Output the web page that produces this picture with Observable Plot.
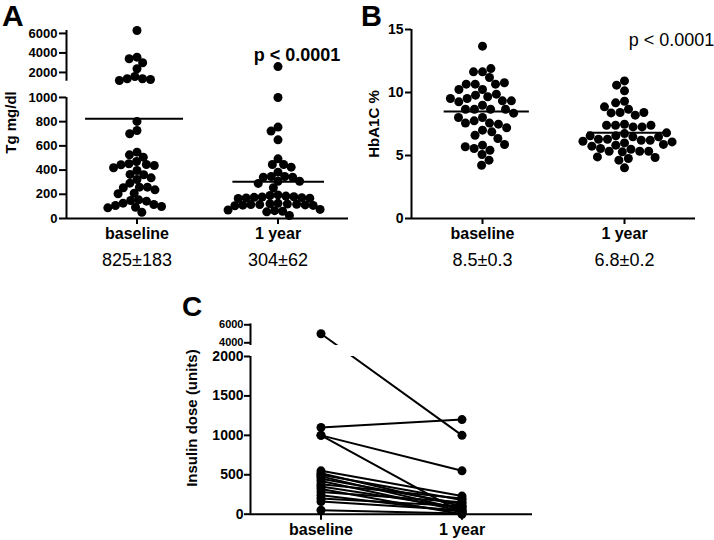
<!DOCTYPE html>
<html><head><meta charset="utf-8">
<script src="https://cdn.jsdelivr.net/npm/d3@7"></script>
<script src="https://cdn.jsdelivr.net/npm/@observablehq/plot@0.6"></script>
<style>
body{margin:0;background:#fff;}
#fig{position:relative;width:714px;height:540px;overflow:hidden;background:#fff;font-family:"Liberation Sans",Arial,sans-serif;}
.panel{position:absolute;}
.panel svg{max-width:none;overflow:visible;background:transparent;}
.letter{position:absolute;font-weight:bold;font-size:30px;line-height:30px;color:#000;}
</style></head><body><div id="fig">
<div class="panel" id="pa" style="left:0;top:0;width:360px;height:280px"></div>
<div class="panel" id="pb" style="left:360px;top:0;width:354px;height:280px"></div>
<div class="panel" id="pc" style="left:170px;top:285px;width:370px;height:255px"></div>
<div class="letter" style="left:2px;top:1px">A</div>
<div class="letter" style="left:361px;top:1px;font-size:29px">B</div>
<div class="letter" style="left:182px;top:293px;font-size:28px;line-height:28px">C</div>
</div>
<script>
const groups = ["baseline", "1 year"];

// Panel A: Tg (mg/dl)
const tgBaseline = [6300, 3570, 3400, 2990, 2380, 1590, 1350, 1350, 1280, 1180,
  802, 727, 700, 548, 526, 507, 471, 452, 446, 444, 438, 419, 397, 364, 361, 336, 322,
  292, 259, 259, 254, 237, 209, 204, 154, 149, 143, 127, 116, 107, 99, 93, 88, 52];
const tg1Year = [2600, 1000, 755, 722, 650, 493, 446, 446, 424, 383, 347, 347, 341, 341,
  308, 308, 290, 254,
  195, 190, 185, 180, 178, 175, 172, 170, 168, 165,
  125, 122, 120, 118, 115, 115, 112, 110, 108, 105,
  75, 70, 65, 60, 55, 25];
const tgMeans = [825, 304];
const tgSummary = ["825\u00B1183", "304\u00B162"];
const tgTicksLower = [0, 200, 400, 600, 800, 1000];
const tgTicksUpper = [2000, 4000, 6000];
const tgBreak = [1000, 1100];
const tgTop = 6300;
const tgP = "p < 0.0001";
const tgLabel = "Tg mg/dl";

// Panel B: HbA1C %
const hbBaseline = [13.68, 11.64, 11.64, 11.9, 11.19, 10.24, 10.66, 10.66, 10.66, 10.77, 10.24,
  9.79, 9.66, 9.87, 9.52, 9.34, 8.99, 9.26, 9.34, 9.52, 8.67, 8.67, 8.67, 8.67,
  8.02, 7.75, 7.57, 7.49, 7.57, 8.02, 8.36, 7.01, 6.61, 6.88, 7.2, 6.35,
  5.82, 5.56, 5.42, 5.69, 5.87, 5.08, 4.63, 4.23];
const hb1Year = [10.92, 10.13, 10.58, 9.31, 9.18, 8.67, 8.41, 8.2, 8.38, 8.41, 8.86,
  7.48, 7.4, 7.27, 7.27, 7.4, 7.4,
  6.74, 6.56, 6.48, 6.29, 6.21, 6.21, 6.29, 6.48, 6.56, 6.8,
  6.13, 6.0, 5.82, 5.88, 6.08,
  5.5, 5.34, 5.34, 5.29, 5.34, 5.56, 5.74, 4.89, 4.76, 4.63, 4.84, 4.02];
const hbMeans = [8.5, 6.8];
const hbSummary = ["8.5\u00B10.3", "6.8\u00B10.2"];
const hbTicks = [0, 5, 10, 15];
const hbP = "p < 0.0001";
const hbLabel = "HbA1C %";

// Panel C: insulin dose (units), paired baseline -> 1 year
const insulinBaseline = [5000, 1100, 1000, 1000, 550, 520, 500, 480, 450, 420, 380, 350, 320, 280, 240, 200, 160, 50];
const insulin1Year    = [1000, 1200, 550, 20, 230, 100, 180, 60, 130, 40, 200, 80, 0, 150, 30, 100, 50, 10];
const insTicksLower = [0, 500, 1000, 1500, 2000];
const insTicksUpper = [4000, 6000];
const insBreak = [2000, 3700];
const insTop = 6100;
const insLabel = "Insulin dose (units)";

const font = '"Liberation Sans", Arial, sans-serif';
const long = (a, b) => [...a.map(v => ({g: groups[0], v})), ...b.map(v => ({g: groups[1], v}))];
// broken-axis scale transform: lower segment linear, a gap, then a compressed upper segment
const brokenAxis = (lowMax, highMin, gap, ratio) => v => v <= lowMax ? v : lowMax + gap + (v - highMin) * ratio;
const fmt = d => String(d);
const ylabel = {frameAnchor: "left", rotate: -90, textAnchor: "middle", lineAnchor: "middle", fontSize: 15, fontWeight: "bold"};

// ---------- Panel A ----------
const tgData = long(tgBaseline, tg1Year);
const tgMeanData = groups.map((g, i) => ({g, m: tgMeans[i], t: tgSummary[i]}));
const spanA = {"baseline": [0.135, 0.83], "1 year": [0.18, 0.83]};
const A = Plot.plot({
  width: 360, height: 280, marginTop: 30, marginBottom: 62, marginLeft: 66, marginRight: 12,
  style: {fontFamily: font, fontSize: "13px", color: "black"},
  fx: {domain: groups, padding: 0, label: null},
  x: {domain: [0, 1], axis: null},
  y: {transform: brokenAxis(tgBreak[0], tgBreak[1], 134, 0.0806)},
  marks: [
    Plot.ruleY([0], {stroke: "black", strokeWidth: 2}),
    Plot.ruleX([{g: groups[0], y1: 0, y2: tgBreak[0]}, {g: groups[0], y1: tgBreak[1], y2: tgTop}],
      {fx: "g", x: 0, y1: "y1", y2: "y2", stroke: "black", strokeWidth: 2}),
    Plot.axisY(tgTicksLower, {tickSize: 7, tickPadding: 2, fontSize: 13, fontWeight: "bold", strokeWidth: 2, label: null, tickFormat: fmt}),
    Plot.axisY(tgTicksUpper, {tickSize: 7, tickPadding: 2, fontSize: 13, fontWeight: "bold", strokeWidth: 2, label: null, tickFormat: fmt}),
    Plot.axisFx({anchor: "bottom", tickSize: 6, tickPadding: 3, fontSize: 16, fontWeight: "bold", strokeWidth: 2, label: null}),
    Plot.dot(tgData, Plot.dodgeX({anchor: "middle", padding: -1}, {fx: "g", y: "v", r: 4.5, fill: "black", stroke: null})),
    Plot.ruleY(tgMeanData, {fx: "g", y: "m", x1: d => spanA[d.g][0], x2: d => spanA[d.g][1], stroke: "black", strokeWidth: 2}),
    Plot.text(tgMeanData, {fx: "g", text: "t", frameAnchor: "bottom", dy: 47, fontSize: 18}),
    Plot.text([{g: groups[1], t: tgP}], {fx: "g", text: "t", frameAnchor: "top", dx: 19, dy: 18, fontSize: 18, fontWeight: "bold"}),
    Plot.text([{g: groups[0], t: tgLabel}], {fx: "g", text: "t", ...ylabel, dx: -55, dy: -2})
  ]
});
document.getElementById("pa").appendChild(A);

// ---------- Panel B ----------
const hbData = long(hbBaseline, hb1Year);
const hbMeanData = groups.map((g, i) => ({g, m: hbMeans[i], t: hbSummary[i]}));
const spanB = {"baseline": [0.23, 0.83], "1 year": [0.24, 0.81]};
const B = Plot.plot({
  width: 354, height: 280, marginTop: 29, marginBottom: 62, marginLeft: 50, marginRight: 19,
  style: {fontFamily: font, fontSize: "14px", color: "black"},
  fx: {domain: groups, padding: 0, label: null},
  x: {domain: [0, 1], axis: null},
  y: {domain: [0, 15]},
  marks: [
    Plot.ruleY([0], {stroke: "black", strokeWidth: 2}),
    Plot.ruleX([{g: groups[0], y1: 0, y2: 15}], {fx: "g", x: 0, y1: "y1", y2: "y2", stroke: "black", strokeWidth: 2}),
    Plot.axisY(hbTicks, {tickSize: 6, tickPadding: 2, fontSize: 14, fontWeight: "bold", strokeWidth: 2, label: null, tickFormat: fmt}),
    Plot.axisFx({anchor: "bottom", tickSize: 6, tickPadding: 3, fontSize: 16, fontWeight: "bold", strokeWidth: 2, label: null}),
    Plot.dot(hbData, Plot.dodgeX({anchor: "middle", padding: 0}, {fx: "g", y: "v", r: 4.5, fill: "black", stroke: null})),
    Plot.ruleY(hbMeanData, {fx: "g", y: "m", x1: d => spanB[d.g][0], x2: d => spanB[d.g][1], stroke: "black", strokeWidth: 2}),
    Plot.text(hbMeanData, {fx: "g", text: "t", frameAnchor: "bottom", dy: 47, fontSize: 18}),
    Plot.text([{g: groups[1], t: hbP}], {fx: "g", text: "t", frameAnchor: "top", dx: 47, dy: 4, fontSize: 18}),
    Plot.text([{g: groups[0], t: hbLabel}], {fx: "g", text: "t", ...ylabel, dx: -37, dy: 0})
  ]
});
document.getElementById("pb").appendChild(B);

// ---------- Panel C ----------
const insData = [];
insulinBaseline.forEach((v, i) => {
  insData.push({id: i, g: groups[0], v});
  insData.push({id: i, g: groups[1], v: insulin1Year[i]});
});
const gx = g => groups.indexOf(g) + 0.5;
const C = Plot.plot({
  width: 370, height: 255, marginTop: 38.4, marginBottom: 26.3, marginLeft: 80, marginRight: 8,
  style: {fontFamily: font, fontSize: "14px", color: "black"},
  x: {domain: [0, groups.length]},
  y: {transform: brokenAxis(insBreak[0], insBreak[1], 139.5, 0.1141)},
  marks: [
    Plot.line(insData, {x: d => gx(d.g), y: "v", z: "id", stroke: "black", strokeWidth: 2}),
    Plot.rect([{y1: insBreak[0], y2: insBreak[1]}], {x1: 0, x2: groups.length, y1: "y1", y2: "y2", fill: "white"}),
    Plot.ruleY([0], {stroke: "black", strokeWidth: 2}),
    Plot.ruleX([{y1: 0, y2: insBreak[0]}, {y1: insBreak[1], y2: insTop}], {x: 0, y1: "y1", y2: "y2", stroke: "black", strokeWidth: 2}),
    Plot.axisY(insTicksLower, {tickSize: 6, tickPadding: 1, fontSize: 14, fontWeight: "bold", strokeWidth: 2, label: null, tickFormat: fmt}),
    Plot.axisY(insTicksUpper, {tickSize: 6, tickPadding: 1, fontSize: 11, fontWeight: "bold", strokeWidth: 2, label: null, tickFormat: fmt}),
    Plot.axisX(groups.map(gx), {tickFormat: d => groups[Math.floor(d)], tickSize: 6, tickPadding: 3, fontSize: 16, fontWeight: "bold", strokeWidth: 2, label: null}),
    Plot.dot(insData, {x: d => gx(d.g), y: "v", r: 4.5, fill: "black", stroke: null}),
    Plot.text([insLabel], {text: d => d, ...ylabel, dx: -58.5, dy: -1})
  ]
});
document.getElementById("pc").appendChild(C);
</script>
</body></html>
